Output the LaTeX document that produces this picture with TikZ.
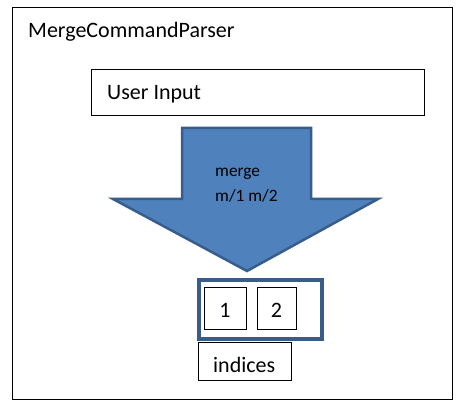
\documentclass[tikz,border=0pt]{standalone}
\usepackage{fontspec}
\setmainfont{Carlito}
\definecolor{arrowfill}{HTML}{4F81BD}
\definecolor{arrowline}{HTML}{385D8A}
\begin{document}
\begin{tikzpicture}[x=1pt,y=-1pt,
  thinbox/.style={draw=black,line width=1pt},
  bigtxt/.style={font=\fontsize{22}{26}\selectfont,inner sep=0pt,anchor=base west},
  smalltxt/.style={font=\fontsize{17.3}{20}\selectfont,inner sep=0pt,anchor=base west},
  digit/.style={font=\fontsize{22}{26}\selectfont,inner sep=0pt,anchor=base}]
\useasboundingbox[fill=white] (0,0) rectangle (467,412);
% outer frame
\draw[thinbox] (12,8) rectangle (452,399);
\node[bigtxt] (title) at (28,38) {MergeCommandParser};
% user input box
\draw[thinbox] (91,70) rectangle (424,116);
\node[bigtxt] (userinput) at (107,100) {User Input};
% block arrow
\draw[fill=arrowfill,draw=arrowline,line width=2.5pt,line join=miter]
  (182,128) -- (311,128) -- (311,199) -- (378,199) -- (247,271) -- (113,199) -- (182,199) -- cycle;
\node[smalltxt] (merge) at (215,177) {merge};
\node[smalltxt] (args) at (215,202) {m/1 m/2};
% indices container
\draw[draw=arrowline,line width=3.5pt] (199,280) rectangle (322,339);
\draw[thinbox] (204,288) rectangle (246,330);
\draw[thinbox] (257,288) rectangle (296,330);
\node[digit] (one) at (225,317) {1};
\node[digit] (two) at (276.5,317) {2};
\draw[thinbox] (198,343) rectangle (291,380);
\node[bigtxt] (indices) at (213,372) {indices};
\end{tikzpicture}
\end{document}
